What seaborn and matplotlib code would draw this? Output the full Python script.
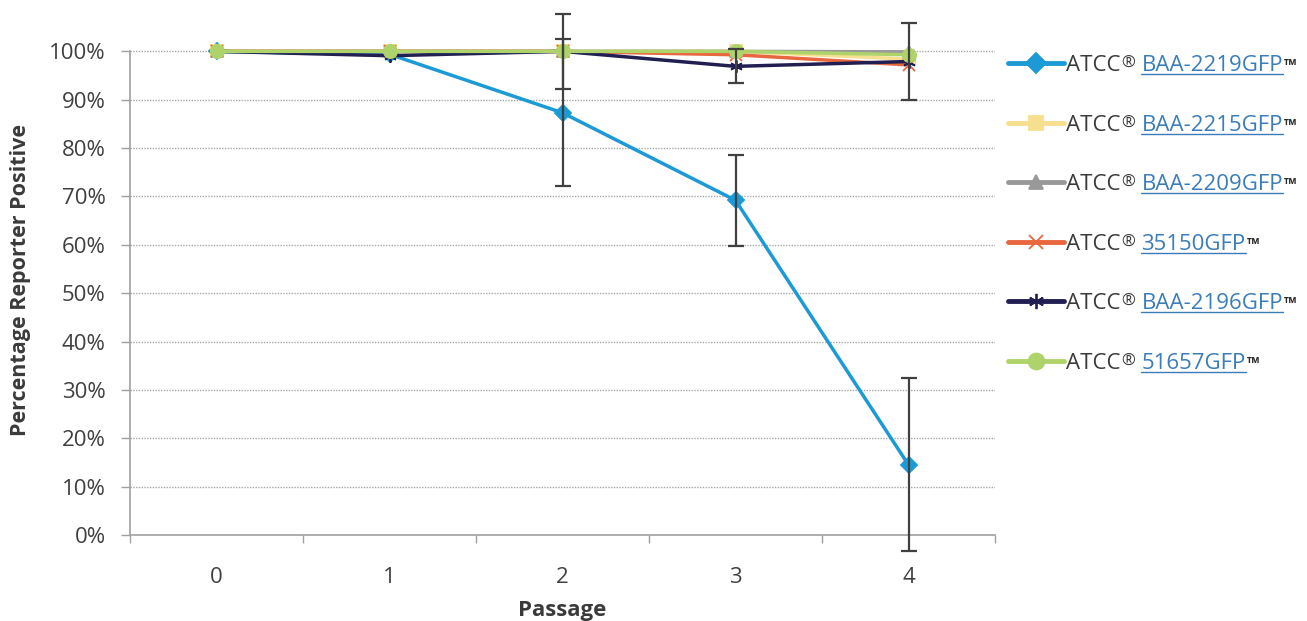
"""Reporter stability of ATCC GFP strains across passages."""

import matplotlib
matplotlib.use("Agg")
import matplotlib.pyplot as plt
import seaborn as sns
from matplotlib.lines import Line2D
from matplotlib.transforms import IdentityTransform

# --- data ---
passages = [0, 1, 2, 3, 4]
strain_ids = ["BAA-2219GFP", "BAA-2215GFP", "BAA-2209GFP",
              "35150GFP", "BAA-2196GFP", "51657GFP"]
baa2219 = [100, 99.4, 87.3, 69.2, 14.5]
baa2215 = [100, 100, 100, 100, 98.4]
baa2209 = [100, 100, 100, 100, 99.9]
atcc35150 = [100, 100, 100, 99.3, 97.2]
baa2196 = [100, 99.1, 100, 96.9, 97.9]
atcc51657 = [100, 100, 100, 100, 99.3]
err_2219 = [0, 0, 15.2, 9.4, 17.9]
err_2196 = [0, 0, 7.7, 3.5, 7.9]
y_ticks = [0, 10, 20, 30, 40, 50, 60, 70, 80, 90, 100]

series = [baa2219, baa2215, baa2209, atcc35150, baa2196, atcc51657]
colors = ["#1C9AD6", "#F6DF8E", "#999999", "#E9673F", "#211F52", "#AFD36B"]
markers = ["D", "s", "^", "x", (6, 2, 0), "o"]
msizes = [8, 8, 8, 8, 9, 9.5]

sns.set_theme(style="white")
plt.rcParams["font.family"] = ["Open Sans", "DejaVu Sans"]

fig = plt.figure(figsize=(13.07, 6.21), dpi=100)
ax = fig.add_axes([130 / 1307, 1 - 535 / 621, 865 / 1307, 532 / 621])

# --- lines, one seaborn call per strain (filled and line markers mixed) ---
for vals, c, m, ms in zip(series, colors, markers, msizes):
    sns.lineplot(x=passages, y=vals, color=c, marker=m, ms=ms, mec=c, mew=1.3,
                 lw=2.5, legend=False, ax=ax)

# --- error bars ---
for vals, err in [(baa2219, err_2219), (baa2196, err_2196)]:
    xs = [p for p, e in zip(passages, err) if e > 0]
    ys = [v for v, e in zip(vals, err) if e > 0]
    es = [e for e in err if e > 0]
    cont = ax.errorbar(xs, ys, yerr=es, fmt="none", ecolor="#404040",
                       elinewidth=1.6, capsize=6, capthick=1.6, zorder=6)
    for art in list(cont.lines[1]) + list(cont.lines[2]):
        art.set_clip_on(False)

# --- axes styling ---
ax.set_xlim(-0.5, 4.5)
ax.set_ylim(0, 110)
ax.set_yticks(y_ticks)
ax.set_yticklabels([f"{v}%" for v in y_ticks])
ax.set_xticks(passages)
ax.set_xticks([-0.5, 0.5, 1.5, 2.5, 3.5, 4.5], minor=True)
ax.tick_params(axis="y", length=6.5, width=1, color="#A0A0A0", pad=11,
               labelsize=16, labelcolor="#404040", left=True)
ax.tick_params(axis="x", which="major", length=0, pad=23, labelsize=16,
               labelcolor="#404040")
ax.tick_params(axis="x", which="minor", length=6, width=1, color="#A0A0A0",
               bottom=True)
ax.yaxis.grid(True, linestyle=(0, (1, 1)), color="#A8A8A8", lw=1)
for side in ["top", "right"]:
    ax.spines[side].set_visible(False)
for side in ["left", "bottom"]:
    ax.spines[side].set_color("#A0A0A0")
    ax.spines[side].set_linewidth(1.2)
ax.spines["left"].set_bounds(0, 100)

ax.set_xlabel("Passage", fontsize=16, fontweight="bold", color="#3A3A3A",
              labelpad=9)
ax.set_ylabel("Percentage Reporter Positive", fontsize=15.5, fontweight="bold",
              color="#3A3A3A")
ax.yaxis.set_label_coords(-0.115, 0.479)

# --- legend: handles + "ATCC", rest of each label added as separate texts ---
handles = [Line2D([], [], color=c, marker=m, ms=ms + 2, mec=c, mew=1.3, lw=3.5)
           for c, m, ms in zip(colors, markers, msizes)]
leg = fig.legend(handles, ["ATCC"] * 6, loc="upper left",
                 bbox_to_anchor=(1008 / 1307, 1 - 55 / 621), frameon=False,
                 fontsize=16, handlelength=2.5, handletextpad=0.12,
                 labelspacing=1.735, borderpad=0, borderaxespad=0)
for t in leg.get_texts():
    t.set_color("#3A3A3A")

fig.canvas.draw()
renderer = fig.canvas.get_renderer()
ident = IdentityTransform()
for t, sid in zip(leg.get_texts(), strain_ids):
    bb = t.get_window_extent(renderer)
    reg = fig.text(bb.x1 + 1, bb.y1 - 1, "®", transform=ident, fontsize=12,
                   color="#3A3A3A", va="top", ha="left")
    rb = reg.get_window_extent(renderer)
    base_y = bb.y0
    idt = fig.text(rb.x1 + 6, base_y, sid, transform=ident, fontsize=16,
                   color="#3B7DBA", va="bottom", ha="left")
    ib = idt.get_window_extent(renderer)
    fig.add_artist(Line2D([ib.x0, ib.x1], [ib.y0 + 2, ib.y0 + 2],
                          transform=ident, color="#3B7DBA", lw=1))
    fig.text(ib.x1 + 1, bb.y1 - 1, "™", transform=ident, fontsize=12,
             fontweight="bold", color="#2A2A2A", va="top", ha="left")

fig.savefig("out.png", dpi=100)
plt.close(fig)
